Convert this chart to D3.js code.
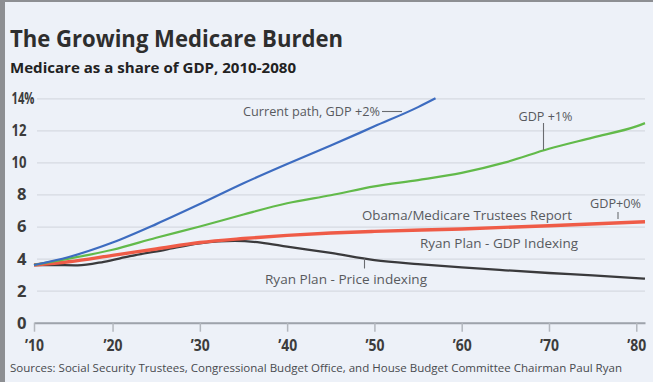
<!DOCTYPE html>
<html><head><meta charset="utf-8">
<script src="https://cdn.jsdelivr.net/npm/d3@7"></script>
<style>
html,body{margin:0;padding:0;background:#edf1f8;}
svg{display:block;}
</style></head>
<body>
<svg id="c" width="653" height="382"></svg>
<script>
// ---- data ----
const blueYears  = [2011, 2015, 2020, 2025, 2030, 2035, 2040, 2045, 2050, 2055, 2057];
const blueValues = [3.6, 4.1, 5.0, 6.15, 7.4, 8.7, 9.9, 11.05, 12.25, 13.45, 14.0];

const greenYears  = [2011, 2015, 2020, 2025, 2030, 2035, 2040, 2045, 2050, 2055, 2060, 2065, 2070, 2075, 2080, 2081];
const greenValues = [3.6, 4.0, 4.55, 5.3, 6.0, 6.75, 7.45, 7.95, 8.5, 8.9, 9.35, 10.0, 10.85, 11.55, 12.25, 12.45];

const redYears  = [2011, 2015, 2020, 2025, 2030, 2035, 2040, 2045, 2050, 2060, 2070, 2081];
const redValues = [3.6, 3.8, 4.2, 4.6, 5.0, 5.25, 5.45, 5.6, 5.7, 5.85, 6.05, 6.3];

const blackYears  = [2011, 2013, 2016, 2019, 2022, 2026, 2030, 2034, 2037, 2040, 2045, 2050, 2055, 2060, 2065, 2070, 2075, 2081];
const blackValues = [3.6, 3.6, 3.58, 3.8, 4.15, 4.55, 4.95, 5.1, 5.0, 4.75, 4.35, 3.9, 3.65, 3.45, 3.27, 3.1, 2.95, 2.75];

const xTickYears  = [2011, 2020, 2030, 2040, 2050, 2060, 2070, 2080];
const xTickLabels = ["\u201910", "\u201920", "\u201930", "\u201940", "\u201950", "\u201960", "\u201970", "\u201980"];
const yTicks = [0, 2, 4, 6, 8, 10, 12, 14];

const title = "The Growing Medicare Burden";
const subtitle = "Medicare as a share of GDP, 2010-2080";
const source = "Sources: Social Security Trustees, Congressional Budget Office, and House Budget Committee Chairman Paul Ryan";

// ---- drawing ----
const svg = d3.select("#c");
const FONT = "'Liberation Sans Narrow', 'Open Sans', 'DejaVu Sans Condensed', sans-serif";

svg.append("rect").attr("x",0).attr("y",0).attr("width",653).attr("height",382).attr("fill","#edf1f8");
svg.append("rect").attr("x",0).attr("y",0).attr("width",653).attr("height",2).attr("fill","#8d8f93");
svg.append("rect").attr("x",0).attr("y",0).attr("width",5).attr("height",382).attr("fill","#8d8f93");

const x = d3.scaleLinear().domain([2011, 2081]).range([34, 645]);
const y = d3.scaleLinear().domain([0, 14]).range([322.7, 98.3]);

function fit(sel, w){ sel.attr("textLength", w).attr("lengthAdjust","spacingAndGlyphs"); return sel; }

svg.append("text").attr("x",10).attr("y",47).text(title)
  .attr("font-family",FONT).attr("font-weight","bold").attr("font-size",24).attr("fill","#2e2e2e")
  .call(fit, 333);
svg.append("text").attr("x",10).attr("y",73).text(subtitle)
  .attr("font-family",FONT).attr("font-weight","bold").attr("font-size",13.5).attr("fill","#222")
  .call(fit, 286);

// y axis with gridlines
const yAxis = d3.axisLeft(y).tickValues(yTicks).tickSizeInner(-(645-37)).tickSizeOuter(0).tickPadding(10)
  .tickFormat(d => d === 14 ? d + "%" : d);
const gy = svg.append("g").attr("transform","translate(37,0)").call(yAxis);
gy.select(".domain").remove();
gy.selectAll(".tick line").attr("stroke","#d6dae2").attr("stroke-width",1.3);
gy.selectAll(".tick text").attr("font-family",FONT).attr("font-weight","bold").attr("font-size",15.5)
  .attr("fill","#3c3c3c").attr("x",-10.5).attr("dy","0.35em")
  .each(function(d){
    const t = d3.select(this);
    if (d === 14) { t.attr("text-anchor","start").attr("x",-25.5).call(fit, 23); }
    else t.call(fit, String(d).length === 1 ? 9.5 : 15);
  });

// x axis
const xAxis = d3.axisBottom(x).tickValues(xTickYears).tickSizeInner(9).tickSizeOuter(0).tickPadding(8)
  .tickFormat((d,i) => xTickLabels[i]);
const gx = svg.append("g").attr("transform",`translate(0,${y(0)})`).call(xAxis);
gx.select(".domain").attr("stroke","#9ea3ab").attr("stroke-width",2);
gx.selectAll(".tick line").attr("stroke","#b3b7be").attr("stroke-width",1.5);
gx.selectAll(".tick text").attr("font-family",FONT).attr("font-weight","bold").attr("font-size",15.5)
  .attr("fill","#3c3c3c").call(fit, 19);

// lines
const line = d3.line().x(d => x(d[0])).y(d => y(d[1])).curve(d3.curveMonotoneX);
function series(years, vals){ return years.map((yr,i) => [yr, vals[i]]); }

svg.append("path").datum(series(blackYears, blackValues)).attr("d", line)
  .attr("fill","none").attr("stroke","#3a3a3c").attr("stroke-width",2.3);
svg.append("path").datum(series(redYears, redValues)).attr("d", line)
  .attr("fill","none").attr("stroke","#ef5b47").attr("stroke-width",3.4);
svg.append("path").datum(series(greenYears, greenValues)).attr("d", line)
  .attr("fill","none").attr("stroke","#62ba4a").attr("stroke-width",2.2);
svg.append("path").datum(series(blueYears, blueValues)).attr("d", line)
  .attr("fill","none").attr("stroke","#3d6cc0").attr("stroke-width",2.2);

// annotations
function label(txt, x0, yc, w){
  svg.append("text").attr("x",x0).attr("y",yc).attr("dy","0.35em").text(txt)
    .attr("font-family",FONT).attr("font-size",13).attr("fill","#585a5e").call(fit, w);
}
function leader(x1,y1,x2,y2){
  svg.append("line").attr("x1",x1).attr("y1",y1).attr("x2",x2).attr("y2",y2)
    .attr("stroke","#6a6c70").attr("stroke-width",1.1);
}
label("Current path, GDP +2%", 243, 111, 137);
leader(382, 111.5, 402, 111.5);
label("GDP +1%", 518.5, 116, 54);
leader(543.5, 123, 543.5, 150);
label("Obama/Medicare Trustees Report", 362, 215, 210);
label("GDP+0%", 590, 203.5, 51);
leader(618, 212, 618, 219);
label("Ryan Plan - GDP Indexing", 420, 243.5, 158);
label("Ryan Plan - Price indexing", 265, 279, 162);
leader(364.5, 258.5, 364.5, 268.5);

svg.append("text").attr("x",10).attr("y",372).text(source)
  .attr("font-family",FONT).attr("font-size",11.5).attr("fill","#484a4e").call(fit, 612);
</script>
</body></html>
